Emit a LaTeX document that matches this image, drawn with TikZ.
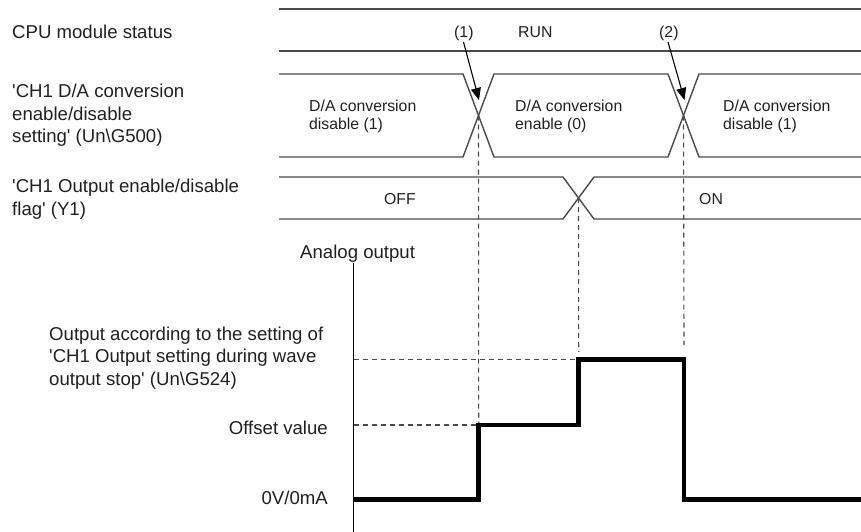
\documentclass[tikz,border=0pt]{standalone}
\usepackage{fontspec}
\setmainfont{Liberation Sans}
\usetikzlibrary{arrows.meta}
\definecolor{wavecol}{HTML}{4A4A4A}
\definecolor{txtcol}{HTML}{231F20}
\newcommand{\sq}{\textquotesingle}
\begin{document}
\begin{tikzpicture}[x=1pt,y=-1pt,
  wave/.style={draw=wavecol,line width=1.4pt,line join=miter},
  guide/.style={draw=wavecol,line width=1.1pt,dash pattern=on 5pt off 4pt},
  sig/.style={draw=black,line width=4.5pt,line join=miter},
  axisline/.style={draw=black,line width=1.3pt},
  pointer/.style={draw=black,line width=1.1pt,-{Triangle[length=12pt,width=10pt]}},
  biglbl/.style={inner sep=0pt,anchor=base west,text=txtcol,align=left,font=\fontsize{18.6}{22.4}\selectfont},
  rlbl/.style={inner sep=0pt,anchor=base east,text=txtcol,font=\fontsize{18.6}{22.4}\selectfont},
  smalllbl/.style={inner sep=0pt,anchor=base west,text=txtcol,align=left,font=\fontsize{15.8}{17.7}\selectfont}
]
\useasboundingbox (0,0) rectangle (861,532);

% left labels (multi-line nodes: base = last line)
\node[biglbl] (cpu) at (12,38.5) {CPU module status};
\node[biglbl] (da) at (12,142.5) {\sq CH1 D/A conversion\\enable/disable\\setting\sq{} (Un\textbackslash G500)};
\node[biglbl] (y1) at (12,215) {\sq CH1 Output enable/disable\\flag\sq{} (Y1)};
\node[biglbl] (ao) at (300,258.3) {Analog output};
\node[biglbl] (stop) at (49,385) {Output according to the setting of\\\sq CH1 Output setting during wave\\output stop\sq{} (Un\textbackslash G524)};
\node[rlbl] (off) at (328,434) {Offset value};
\node[rlbl] (zero) at (328,504) {0V/0mA};

% CPU status row
\draw[wave] (279,9) -- (861,9);
\draw[wave] (279,51) -- (861,51);
\node[smalllbl] (run) at (518,37.5) {RUN};
\node[smalllbl] (n1) at (454,37.5) {(1)};
\node[smalllbl] (n2) at (659,37.5) {(2)};

% D/A conversion row
\draw[wave] (279,74) -- (463,74) -- (494,157) -- (668,157) -- (699,74) -- (861,74);
\draw[wave] (279,157) -- (463,157) -- (494,74) -- (668,74) -- (699,157) -- (861,157);
\node[smalllbl] (d1) at (309,129.4) {D/A conversion\\disable (1)};
\node[smalllbl] (d2) at (515,129.4) {D/A conversion\\enable (0)};
\node[smalllbl] (d3) at (723,129.4) {D/A conversion\\disable (1)};

% output enable flag row
\draw[wave] (279,177) -- (563,177) -- (594,219) -- (861,219);
\draw[wave] (279,219) -- (563,219) -- (594,177) -- (861,177);
\node[smalllbl] (offl) at (384,204) {OFF};
\node[smalllbl] (onl) at (699,204) {ON};

% crossing points and tips
\coordinate (x1) at (478.5,115.5);
\coordinate (x2) at (683.5,115.5);
\coordinate (x3) at (578.5,198);
\coordinate (t1) at (479,100);
\coordinate (t2) at (684.5,100);
\coordinate (s1) at (463.5,42);
\coordinate (s2) at (668,42);

\draw[pointer] (s1) -- (t1);
\draw[pointer] (s2) -- (t2);

% analog output graph
\coordinate (axtop) at (353.7,263);
\coordinate (axbot) at (353.7,532);
\coordinate (hi) at (353.7,359.5);
\coordinate (of) at (353.7,425);

\draw[guide] (x1) -- (478.7,425);
\draw[guide] (x3) -- (578.7,352);
\draw[guide] (x2) -- (684,345);
\draw[guide] (hi) -- (578.7,359.5);
\draw[guide] (of) -- (478.7,425);

\draw[axisline] (axtop) -- (axbot);
\draw[sig] (353.7,499.3) -- (478.7,499.3) -- (478.7,425) -- (578.7,425) -- (578.7,359.5) -- (684,359.5) -- (684,499.3) -- (861,499.3);
\end{tikzpicture}
\end{document}
